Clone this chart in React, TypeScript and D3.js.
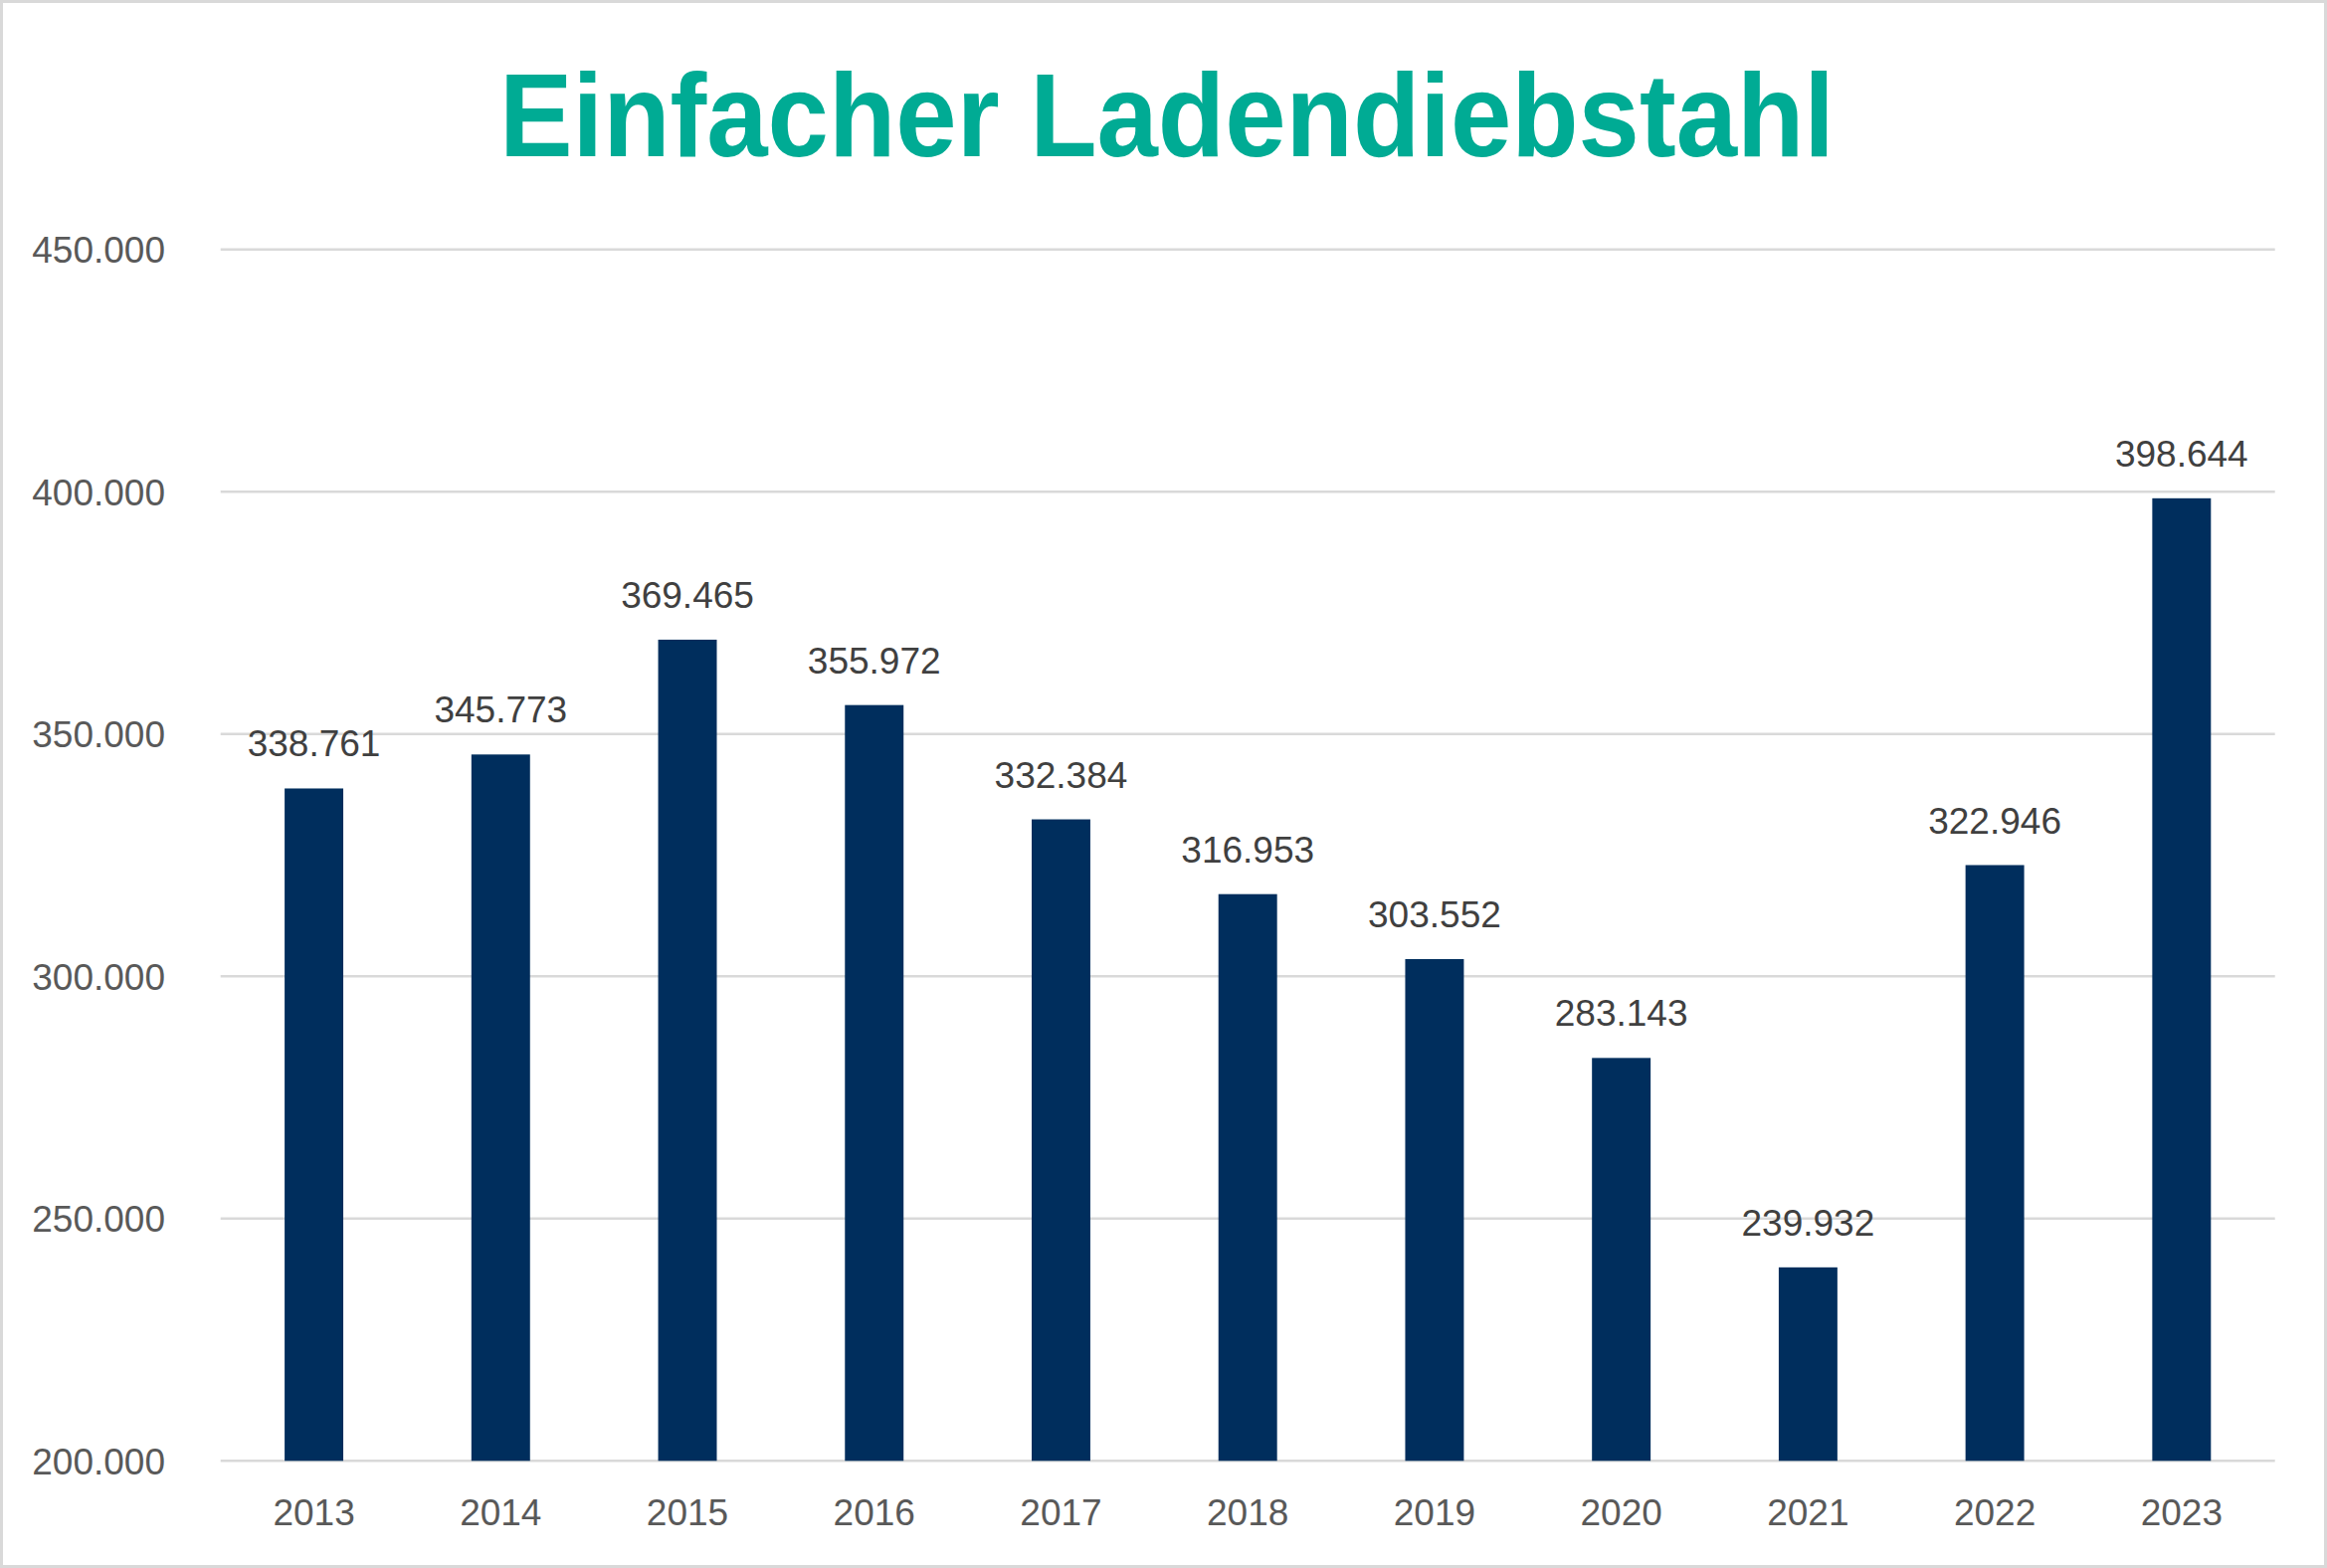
import React from "react";
import * as d3 from "d3";

const years = ["2013","2014","2015","2016","2017","2018","2019","2020","2021","2022","2023"];
const values = [338761, 345773, 369465, 355972, 332384, 316953, 303552, 283143, 239932, 322946, 398644];
const yTicks = [200000, 250000, 300000, 350000, 400000, 450000];
const title = "Einfacher Ladendiebstahl";

const W = 2339, H = 1576;
const left = 221.7, right = 2286.7, top = 250.7, bottom = 1468.3;

const de = d3.formatLocale({ decimal: ",", thousands: ".", grouping: [3], currency: ["", " €"] });
const fmt = de.format(",.0f");

export default function App() {
  const x = d3.scaleBand<string>().domain(years).range([left, right]).paddingInner(0.686).paddingOuter(0.343);
  const y = d3.scaleLinear().domain([200000, 450000]).range([bottom, top]);
  const font = "'Liberation Sans', Arial, sans-serif";
  return (
    <svg width={W} height={H} style={{ position: "absolute", left: 0, top: 0, display: "block" }} fontFamily={font}>
      <rect x={0} y={0} width={W} height={H} fill="#fff" />
      <rect x={1.5} y={1.5} width={W - 3} height={H - 3} fill="none" stroke="#d9d9d9" strokeWidth={3} />
      <text x={1173} y={156.5} textAnchor="middle" fill="#00ab94" fontWeight="bold" fontSize={118}
        textLength={1342} lengthAdjust="spacingAndGlyphs">{title}</text>
      {yTicks.map((t) => (
        <g key={t}>
          <line x1={left} x2={right} y1={y(t)} y2={y(t)} stroke="#d9d9d9" strokeWidth={2.5} />
          <text x={166} y={y(t)} dy="0.36em" textAnchor="end" fill="#595959" fontSize={37}>{fmt(t)}</text>
        </g>
      ))}
      {years.map((yr, i) => (
        <g key={yr}>
          <rect x={x(yr)!} y={y(values[i])} width={x.bandwidth()} height={y(200000) - y(values[i])} fill="#002e5d" />
          <text x={x(yr)! + x.bandwidth() / 2} y={y(values[i]) - 32} textAnchor="middle" fill="#404040" fontSize={37}>{fmt(values[i])}</text>
          <text x={x(yr)! + x.bandwidth() / 2} y={1533} textAnchor="middle" fill="#595959" fontSize={37}>{yr}</text>
        </g>
      ))}
    </svg>
  );
}
